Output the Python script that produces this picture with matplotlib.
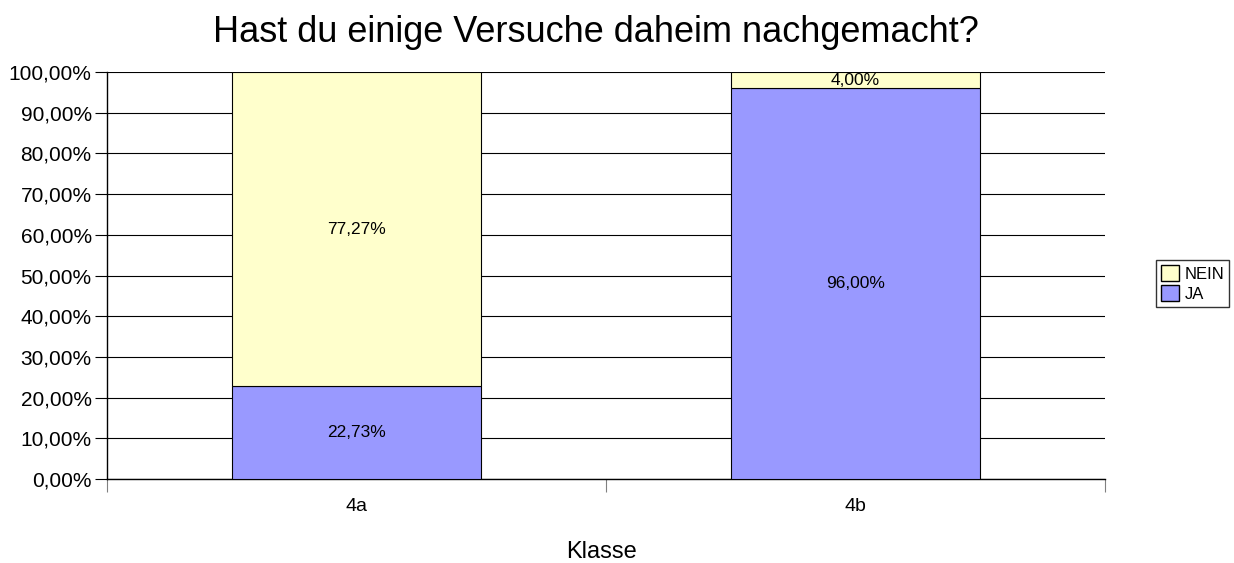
import numpy as np
import matplotlib.pyplot as plt
from matplotlib.patches import Patch

plt.rcParams['font.family'] = ['Liberation Sans', 'DejaVu Sans']

klassen = ['4a', '4b']
ja = [22.73, 96.00]
nein = [77.27, 4.00]
yticks = np.arange(0, 101, 10)

fig = plt.figure(figsize=(12.34, 5.63), dpi=100)
ax = fig.add_axes([0.0867, 0.1492, 0.8088, 0.7229])

x = np.arange(len(klassen)) + 0.5
width = 0.5
c_ja = '#9999FF'
c_nein = '#FFFFCC'

ax.bar(x, ja, width, color=c_ja, edgecolor='black', linewidth=0.8, zorder=3)
ax.bar(x, nein, width, bottom=ja, color=c_nein, edgecolor='black', linewidth=0.8, zorder=3)

def fmt(v):
    return ('%.2f%%' % v).replace('.', ',')

for xi, a, b in zip(x, ja, nein):
    ax.text(xi, a / 2, fmt(a), ha='center', va='center', fontsize=12.5, zorder=4)
    ax.text(xi, a + b / 2, fmt(b), ha='center', va='center', fontsize=12.5, zorder=4)

ax.set_xlim(0, len(klassen))
ax.set_ylim(0, 100)
ax.set_yticks(yticks)
ax.set_yticklabels([fmt(v) for v in yticks], fontsize=15)
ax.yaxis.grid(True, color='black', linewidth=0.8, zorder=0)
ax.set_axisbelow(True)

ax.set_xticks(np.arange(len(klassen) + 1))
ax.set_xticklabels([])
ax.set_xticks(x, minor=True)
ax.set_xticklabels(klassen, minor=True, fontsize=14)
ax.tick_params(axis='x', which='major', length=9, direction='out', color='#808080')
ax.tick_params(axis='x', which='minor', length=0, pad=14)
ax.tick_params(axis='y', length=9, direction='out', pad=2)

for s in ['top', 'right']:
    ax.spines[s].set_visible(False)
ax.spines['left'].set_linewidth(1)
ax.spines['bottom'].set_linewidth(1)

fig.text(602 / 1234, 1 - 558 / 563, 'Klasse', ha='center', va='baseline', fontsize=17)
fig.text(596 / 1234, 1 - 42 / 563, 'Hast du einige Versuche daheim nachgemacht?',
         ha='center', va='baseline', fontsize=26)

handles = [Patch(facecolor=c_nein, edgecolor='black', label='NEIN'),
           Patch(facecolor=c_ja, edgecolor='black', label='JA')]
fig.legend(handles=handles, loc='center left', bbox_to_anchor=(0.9368, 0.497),
           fontsize=12, frameon=True, fancybox=False, edgecolor='black',
           handlelength=1.1, handleheight=1.1, handletextpad=0.3,
           borderpad=0.3, labelspacing=0.2, borderaxespad=0)

fig.savefig('out.png', dpi=100)
